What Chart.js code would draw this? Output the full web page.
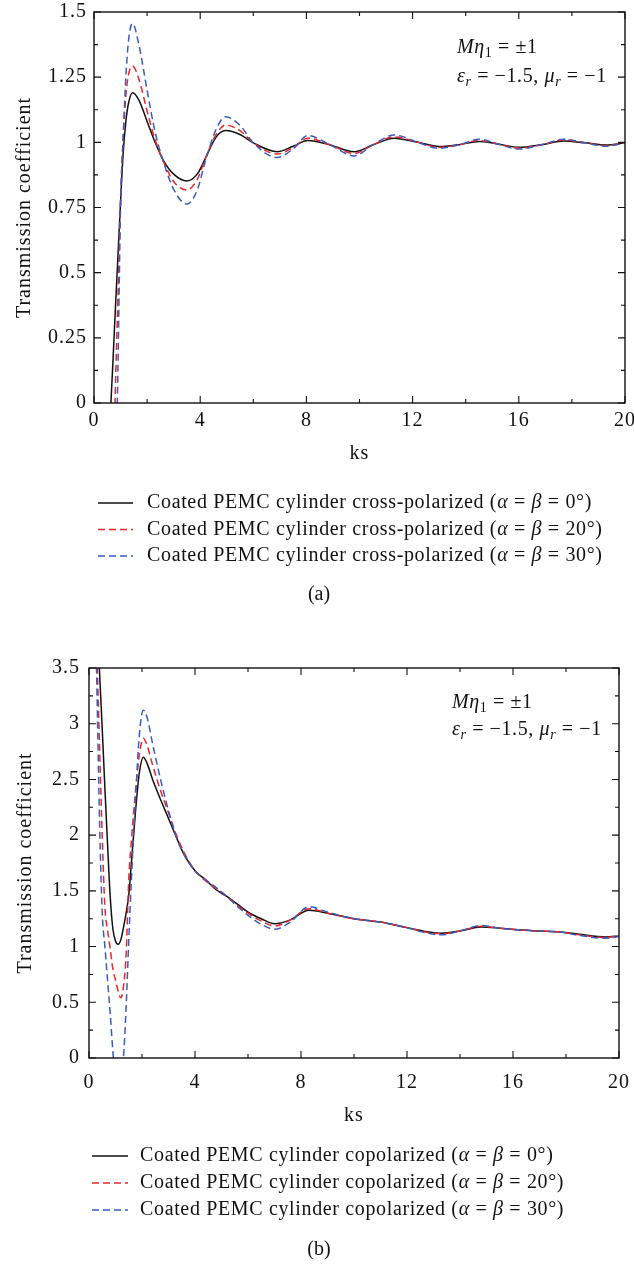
<!DOCTYPE html>
<html>
<head>
<meta charset="utf-8">
<title>Transmission coefficient vs ks</title>
<script src="https://cdn.jsdelivr.net/npm/chart.js@4.4.1/dist/chart.umd.min.js"></script>
<style>
  html, body { margin: 0; padding: 0; background: #fff; }
  canvas { display: block; }
</style>
</head>
<body>
<canvas id="crossPol" width="634" height="632"></canvas>
<canvas id="coPol" width="634" height="632"></canvas>
<script>
// (a) cross-polarized transmission coefficient
const ksCross = [0.5, 0.6, 0.7, 0.8, 0.9, 1.0, 1.1, 1.2, 1.3, 1.45, 1.7, 2.0, 2.3, 2.6, 3.0,
  3.5, 3.9, 4.2, 4.6, 4.95, 5.5, 6.0, 6.9, 7.5, 8.05, 8.9, 9.8, 10.5, 11.3, 12.2,
  13.0, 13.8, 14.5, 15.2, 16.0, 16.9, 17.7, 18.5, 19.3, 20.0];
const crossPol0 = [-0.35, -0.08, 0.13, 0.35, 0.56, 0.77, 0.96, 1.08, 1.15, 1.19, 1.16, 1.08, 1.0, 0.933, 0.878,
  0.852, 0.88, 0.94, 1.02, 1.045, 1.03, 0.998, 0.964, 0.985, 1.007, 0.99, 0.964, 0.99, 1.016, 1.0,
  0.984, 0.992, 1.003, 0.994, 0.981, 0.992, 1.005, 0.998, 0.99, 0.998];
const crossPol20 = [-1.4, -0.95, -0.45, 0.03, 0.4, 0.78, 1.02, 1.18, 1.26, 1.293, 1.24, 1.12, 1.01, 0.93, 0.85,
  0.817, 0.86, 0.94, 1.03, 1.066, 1.045, 0.998, 0.955, 0.98, 1.016, 0.99, 0.957, 0.99, 1.021, 1.0,
  0.981, 0.992, 1.007, 0.994, 0.978, 0.992, 1.009, 0.998, 0.988, 0.998];
const crossPol30 = [-2.2, -1.6, -1.0, -0.4, 0.12, 0.75, 1.02, 1.25, 1.39, 1.456, 1.37, 1.2, 1.04, 0.93, 0.82,
  0.763, 0.82, 0.93, 1.05, 1.098, 1.065, 0.998, 0.942, 0.975, 1.026, 0.99, 0.948, 0.99, 1.028, 1.0,
  0.977, 0.992, 1.012, 0.994, 0.974, 0.992, 1.012, 0.998, 0.985, 0.998];

// (b) copolarized transmission coefficient
const ksCo = [0.2, 0.3, 0.4, 0.5, 0.6, 0.7, 0.8, 0.9, 1.0, 1.1, 1.2, 1.3, 1.4, 1.5, 1.6, 1.75, 1.9, 2.05,
  2.2, 2.4, 2.7, 3.0, 3.3, 3.6, 4.0, 4.4, 4.8, 5.2, 5.6, 6.0, 6.5, 7.0, 7.6, 8.3, 9.0, 10.0,
  11.0, 12.0, 12.6, 13.3, 14.0, 14.8, 15.5, 16.2, 17.0, 17.8, 18.5, 19.5, 20.0];
const coPol0 = [4.45, 3.95, 3.45, 2.95, 2.42, 1.92, 1.45, 1.16, 1.05, 1.02, 1.06, 1.17, 1.3, 1.46, 1.75, 2.2, 2.56, 2.70,
  2.64, 2.5, 2.32, 2.15, 1.98, 1.82, 1.68, 1.6, 1.51, 1.45, 1.38, 1.31, 1.25, 1.205, 1.24, 1.325, 1.3, 1.25,
  1.22, 1.17, 1.14, 1.12, 1.14, 1.175, 1.165, 1.15, 1.14, 1.13, 1.11, 1.087, 1.095];
const coPol20 = [4.3, 3.6, 2.78, 1.98, 1.35, 1.15, 0.98, 0.8, 0.7, 0.6, 0.54, 0.64, 0.92, 1.6, 1.95, 2.38, 2.72, 2.87,
  2.8, 2.63, 2.4, 2.2, 2.0, 1.84, 1.68, 1.59, 1.52, 1.45, 1.37, 1.3, 1.23, 1.185, 1.24, 1.34, 1.3, 1.25,
  1.22, 1.17, 1.135, 1.115, 1.14, 1.182, 1.165, 1.15, 1.14, 1.13, 1.105, 1.082, 1.095];
const coPol30 = [4.5, 3.3, 2.1, 1.3, 1.0, 0.7, 0.4, 0.06, -0.2, -0.3, -0.2, 0.0, 0.45, 1.05, 1.6, 2.3, 2.9, 3.12,
  3.05, 2.82, 2.5, 2.22, 1.98, 1.82, 1.68, 1.6, 1.53, 1.45, 1.36, 1.28, 1.2, 1.155, 1.22, 1.357, 1.31, 1.25,
  1.22, 1.17, 1.13, 1.105, 1.14, 1.19, 1.165, 1.15, 1.14, 1.13, 1.1, 1.075, 1.09];

const angles = ['0°', '20°', '30°'];
const crossLabels = angles.map(a => `Coated PEMC cylinder cross-polarized (α = β = ${a})`);
const coLabels = angles.map(a => `Coated PEMC cylinder copolarized (α = β = ${a})`);

const FONT = '"Liberation Serif", "Times New Roman", serif';
const INK = '#111';
const lineStyles = [
  { color: '#111111', dash: [] },
  { color: '#e8262b', dash: [7, 4] },
  { color: '#3a5cbf', dash: [7, 4] },
];

// text with italic / subscript runs, e.g. [['M','i'], ['1','sub']]
function drawRich(ctx, parts, x, y, size) {
  for (const [text, style] of parts) {
    const sub = style.endsWith('sub');
    const italic = style.startsWith('i');
    const s = sub ? Math.round(size * 0.7) : size;
    ctx.font = `${italic ? 'italic ' : ''}${s}px ${FONT}`;
    ctx.fillText(text, x, sub ? y + size * 0.22 : y);
    x += ctx.measureText(text).width;
  }
}

// the serif face is a little narrow, open the tracking slightly
const tracking = {
  id: 'tracking',
  beforeDraw(chart, args, opts) {
    chart.ctx.letterSpacing = opts.value;
  }
};

// closed frame with inward major/minor ticks on all four sides
const frameTicks = {
  id: 'frameTicks',
  afterDatasetsDraw(chart) {
    const { ctx, chartArea: a, scales: { x, y } } = chart;
    const marks = scale => {
      const vals = scale.ticks.map(t => t.value);
      const out = [];
      vals.forEach((v, i) => {
        out.push([v, 7]);
        if (i < vals.length - 1) out.push([(v + vals[i + 1]) / 2, 4]);
      });
      return out;
    };
    ctx.save();
    ctx.strokeStyle = INK;
    ctx.lineWidth = 1.1;
    ctx.beginPath();
    for (const [v, len] of marks(x)) {
      const px = x.getPixelForValue(v);
      ctx.moveTo(px, a.bottom); ctx.lineTo(px, a.bottom - len);
      ctx.moveTo(px, a.top); ctx.lineTo(px, a.top + len);
    }
    for (const [v, len] of marks(y)) {
      const py = y.getPixelForValue(v);
      ctx.moveTo(a.left, py); ctx.lineTo(a.left + len, py);
      ctx.moveTo(a.right, py); ctx.lineTo(a.right - len, py);
    }
    ctx.stroke();
    ctx.lineWidth = 1.4;
    ctx.strokeRect(a.left, a.top, a.right - a.left, a.bottom - a.top);
    ctx.restore();
  }
};

// parameter note in the upper right of the plot
const paramNote = {
  id: 'paramNote',
  afterDraw(chart, args, opts) {
    const { ctx } = chart;
    ctx.save();
    ctx.fillStyle = INK;
    ctx.textBaseline = 'alphabetic';
    ctx.letterSpacing = '0.6px';
    drawRich(ctx, [['M', 'i'], ['η', 'i'], ['1', 'sub'], [' = ±1', 'n']], opts.x, opts.y, opts.size);
    drawRich(ctx, [['ε', 'i'], ['r', 'isub'], [' = −1.5, ', 'n'], ['μ', 'i'], ['r', 'isub'], [' = −1', 'n']],
      opts.x, opts.y + opts.gap, opts.size);
    ctx.restore();
  }
};

// stacked legend rows plus the panel caption
const legendRows = {
  id: 'legendRows',
  afterDraw(chart, args, opts) {
    const { ctx } = chart;
    ctx.save();
    ctx.textBaseline = 'middle';
    ctx.fillStyle = INK;
    chart.data.datasets.forEach((ds, i) => {
      const y = opts.top + i * opts.rowGap;
      ctx.strokeStyle = ds.borderColor;
      ctx.lineWidth = 1.5;
      ctx.setLineDash(ds.borderDash);
      ctx.beginPath();
      ctx.moveTo(opts.left, y);
      ctx.lineTo(opts.left + opts.sample, y);
      ctx.stroke();
      ctx.setLineDash([]);
      ctx.letterSpacing = '0.65px';
      const parts = ds.label.split(/([αβ])/).filter(Boolean)
        .map(t => [t, /[αβ]/.test(t) ? 'i' : 'n']);
      drawRich(ctx, parts, opts.left + opts.sample + opts.gap, y, opts.size);
    });
    ctx.letterSpacing = '0px';
    ctx.textAlign = 'center';
    ctx.font = `${opts.size}px ${FONT}`;
    ctx.fillText(opts.caption, opts.captionX, opts.captionY);
    ctx.restore();
  }
};

function makeChart(id, ks, series, labels, cfg) {
  const tickFont = { family: FONT, size: 20 };
  return new Chart(document.getElementById(id), {
    type: 'line',
    data: {
      datasets: series.map((vals, i) => ({
        label: labels[i],
        data: ks.map((k, j) => ({ x: k, y: vals[j] })),
        borderColor: lineStyles[i].color,
        borderDash: lineStyles[i].dash,
        borderWidth: 1.5,
        pointRadius: 0,
        cubicInterpolationMode: 'monotone',
        clip: 0,
        order: series.length - i,
      })),
    },
    options: {
      responsive: false,
      animation: false,
      events: [],
      layout: { padding: cfg.padding },
      plugins: {
        legend: { display: false },
        tooltip: { enabled: false },
        tracking: { value: '1px' },
        paramNote: cfg.note,
        legendRows: cfg.legend,
      },
      scales: {
        x: {
          type: 'linear', min: 0, max: 20,
          ticks: { stepSize: 4, padding: cfg.xTickPad, color: INK, font: tickFont, maxRotation: 0 },
          grid: { display: false, drawTicks: false },
          border: { display: false },
          title: { display: true, text: 'ks', color: INK, font: tickFont, padding: 0 },
          afterFit: s => { s.height = cfg.xHeight; s.paddingLeft = 0; s.paddingRight = 0; },
        },
        y: {
          type: 'linear', min: 0, max: cfg.yMax,
          ticks: { stepSize: cfg.yStep, padding: cfg.yTickPad, color: INK, font: tickFont,
            callback: v => String(Math.round(v * 1000) / 1000) },
          grid: { display: false, drawTicks: false },
          border: { display: false },
          title: { display: true, text: 'Transmission coefficient', color: INK, font: tickFont,
            padding: { top: cfg.yTitlePad, bottom: 0 } },
          afterFit: s => { s.width = cfg.yWidth; s.paddingTop = 0; s.paddingBottom = 0; },
        },
      },
    },
    plugins: [tracking, frameTicks, paramNote, legendRows],
  });
}

makeChart('crossPol', ksCross, [crossPol0, crossPol20, crossPol30], crossLabels, {
  padding: { left: 0, top: 12, right: 9, bottom: 166 },
  yMax: 1.5, yStep: 0.25, yWidth: 94, yTickPad: 7, yTitlePad: 13,
  xHeight: 63, xTickPad: 6,
  note: { x: 457, y: 53, gap: 29, size: 20 },
  legend: { left: 98, sample: 35, gap: 14, top: 503, rowGap: 26.5, size: 20,
    caption: '(a)', captionX: 319, captionY: 595 },
});

makeChart('coPol', ksCo, [coPol0, coPol20, coPol30], coLabels, {
  padding: { left: 0, top: 36, right: 15, bottom: 136 },
  yMax: 3.5, yStep: 0.5, yWidth: 89, yTickPad: 9, yTitlePad: 14,
  xHeight: 70, xTickPad: 13,
  note: { x: 452, y: 76, gap: 27, size: 20 },
  legend: { left: 92, sample: 36, gap: 12, top: 524, rowGap: 27, size: 20,
    caption: '(b)', captionX: 319, captionY: 618 },
});
</script>
</body>
</html>
